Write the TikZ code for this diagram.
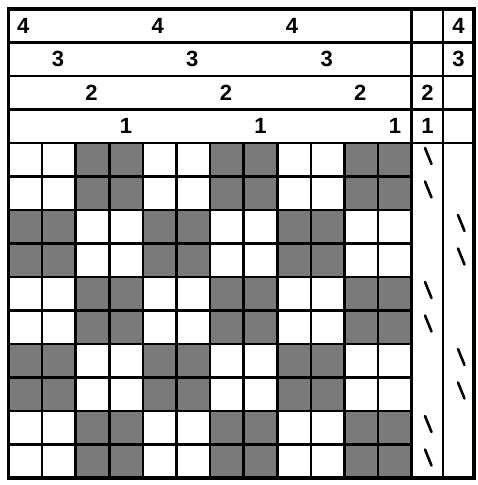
\documentclass[tikz,border=0pt]{standalone}
\usepackage{fontspec}
\setmainfont{Liberation Sans}
\begin{document}
\begin{tikzpicture}[x=1pt,y=-1pt,
  darkcell/.style={fill=black!52},
  gridline/.style={line width=2.6pt,line cap=rect},
  frameline/.style={line width=3.4pt,line join=miter},
  digit/.style={inner sep=0pt,font=\fontsize{22}{22}\selectfont\bfseries},
  tick/.style={line width=2.6pt,line cap=round}]
\useasboundingbox (0,0) rectangle (478,485);
\def\xo{8.5}\def\yo{9}\def\W{33.6}\def\H{33.5}
% dark cells
\foreach \r in {1,2,5,6,9,10}
  \foreach \c in {3,4,7,8,11,12}
    \fill[darkcell] ({\xo+(\c-1)*\W},{\yo+(3+\r)*\H}) rectangle ++(\W,\H);
\foreach \r in {3,4,7,8}
  \foreach \c in {1,2,5,6,9,10}
    \fill[darkcell] ({\xo+(\c-1)*\W},{\yo+(3+\r)*\H}) rectangle ++(\W,\H);
% grid vertical lines
\foreach \k in {1,...,11}
  \draw[gridline] ({\xo+\k*\W},{\yo+4*\H}) -- ({\xo+\k*\W},{\yo+14*\H});
% grid horizontal lines
\foreach \k in {5,...,13}
  \draw[gridline] (\xo,{\yo+\k*\H}) -- ({\xo+12*\W},{\yo+\k*\H});
% header horizontal lines (full width)
\foreach \k in {1,...,4}
  \draw[gridline] (\xo,{\yo+\k*\H}) -- (474,{\yo+\k*\H});
% threading column separators
\draw[gridline] ({\xo+12*\W},\yo) -- ({\xo+12*\W},{\yo+14*\H});
\draw[gridline] (443,\yo) -- (443,{\yo+14*\H});
% outer frame
\draw[frameline] (\xo,\yo) rectangle (474,{\yo+14*\H});
% header digits
\foreach \c/\n [count=\i] in {1/4,5/4,9/4}
  \node[digit] (fa\i) at ({\xo+(\c-0.5)*\W-2},{\yo+0.5*\H}) {\n};
\foreach \c/\n [count=\i] in {2/3,6/3,10/3}
  \node[digit] (fb\i) at ({\xo+(\c-0.5)*\W-1},{\yo+1.5*\H}) {\n};
\foreach \c/\n [count=\i] in {3/2,7/2,11/2}
  \node[digit] (fc\i) at ({\xo+(\c-0.5)*\W-1},{\yo+2.5*\H}) {\n};
\foreach \c/\n [count=\i] in {4/1,8/1,12/1}
  \node[digit] (fd\i) at ({\xo+(\c-0.5)*\W},{\yo+3.5*\H}) {\n};
\node[digit] (ta) at (458.5,{\yo+0.5*\H}) {4};
\node[digit] (tb) at (458.5,{\yo+1.5*\H}) {3};
\node[digit] (tc) at (427.4,{\yo+2.5*\H}) {2};
\node[digit] (td) at (427.4,{\yo+3.5*\H}) {1};
% threading ticks
\foreach \r in {1,2,5,6,9,10}
  \draw[tick] (425,{\yo+(3+\r)*\H+5}) -- (431.5,{\yo+(3+\r)*\H+21});
\foreach \r in {3,4,7,8}
  \draw[tick] (458,{\yo+(3+\r)*\H+5}) -- (464.5,{\yo+(3+\r)*\H+21});
\end{tikzpicture}
\end{document}
